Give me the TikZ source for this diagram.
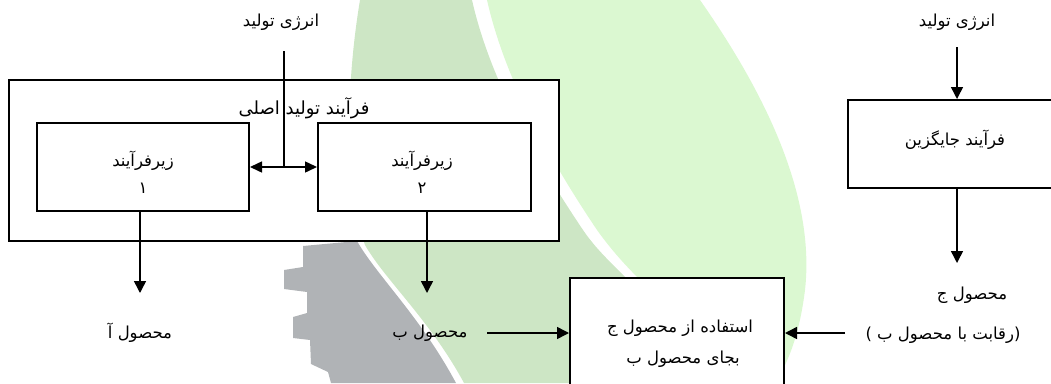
\documentclass[tikz,border=0pt]{standalone}
\usepackage{fontspec}
\newfontfamily\arabicfont[Script=Arabic]{DejaVu Sans}
\newfontfamily\latinfont{DejaVu Sans}
\TeXXeTstate=1
\usetikzlibrary{arrows.meta}
\definecolor{lgreen}{RGB}{219,248,209}
\definecolor{dgreen}{RGB}{205,230,197}
\definecolor{wgray}{RGB}{176,179,182}
\begin{document}
\begin{tikzpicture}[x=1pt,y=-1pt,
  box/.style={draw, line width=2pt, fill=white, inner sep=0pt},
  lbl/.style={font=\arabicfont\fontsize{16.5}{19}\selectfont, inner sep=0pt},
  ttl/.style={font=\arabicfont\fontsize{18}{21}\selectfont, inner sep=0pt},
  ln/.style={line width=1.5pt},
  arr/.style={line width=1.5pt, -{Triangle[length=12pt,width=12pt]}},
  dbl/.style={line width=1.5pt, {Triangle[length=12pt,width=11pt]}-{Triangle[length=12pt,width=11pt]}}]
\useasboundingbox (0,0) rectangle (1051,383);
% watermark
\fill[lgreen] (487,0) -- (700,0) .. controls (770,100) and (815,200) .. (805,290) .. controls (800,330) and (790,360) .. (775,383) -- (715,383) .. controls (690,340) and (670,320) .. (650,290) .. controls (630,270) and (615,255) .. (597,230) .. controls (550,160) and (505,80) .. (487,0) -- cycle;
\fill[dgreen] (360,0) -- (472,0) .. controls (490,80) and (536,160) .. (583,230) .. controls (600,255) and (620,270) .. (637,290) .. controls (660,320) and (680,345) .. (700,383) -- (464,383) .. controls (430,320) and (385,280) .. (365,245) .. controls (345,190) and (345,90) .. (360,0) -- cycle;
\fill[wgray] (303,246) -- (357,241) .. controls (377,276) and (420,316) .. (456,383) -- (331,383) -- (328,372) -- (311,364) -- (310,340) -- (293,338) -- (293,317) -- (307,313) -- (307,292) -- (284,289) -- (284,270) -- (303,267) -- cycle;
% left part
\node[box, minimum width=550pt, minimum height=161pt] (outer) at (284,160.5) {};
\node[ttl] (title) at (304,108) {\beginR فرآیند تولید اصلی\endR};
\node[box, minimum width=212pt, minimum height=88pt] (b1) at (143,167) {};
\node[box, minimum width=213pt, minimum height=88pt] (b2) at (424.5,167) {};
\node[lbl] (t1a) at (143,161) {\beginR زیرفرآیند\endR};
\node[lbl] (t1b) at (143,188) {۱};
\node[lbl] (t2a) at (422,161) {\beginR زیرفرآیند\endR};
\node[lbl] (t2b) at (422,188) {۲};
\node[lbl] (e1) at (281,22) {\beginR انرژی تولید\endR};
\coordinate (e1s) at (284,51);
\coordinate (j) at (284,167);
\draw[ln] (e1s) -- (j);
\draw[dbl] (b1.east) -- (b2.west);
\coordinate (a1) at (140,293);
\draw[arr] (b1.south -| a1) -- (a1);
\node[lbl] (p1) at (140,333) {\beginR محصول آ\endR};
\coordinate (a2) at (427,293);
\draw[arr] (b2.south -| a2) -- (a2);
\node[lbl] (p2) at (430,333) {\beginR محصول ب\endR};
% bottom box
\node[box, minimum width=214pt, minimum height=130pt] (u) at (677,343) {};
\node[lbl] (u1) at (680,328) {\beginR استفاده از محصول ج\endR};
\node[lbl] (u2) at (683,359) {\beginR بجای محصول ب\endR};
\coordinate (l1) at (487,333);
\draw[arr] (l1) -- (l1 -| u.west);
\coordinate (r1) at (845,333);
\draw[arr] (r1) -- (r1 -| u.east);
% right part
\node[lbl] (e2) at (957,22) {\beginR انرژی تولید\endR};
\coordinate (e2s) at (957,47);
\node[box, minimum width=218pt, minimum height=88pt] (rb) at (957,144) {};
\node[lbl] (rbt) at (955,140) {\beginR فرآیند جایگزین\endR};
\draw[arr] (e2s) -- (rb.north);
\coordinate (a3) at (957,263);
\draw[arr] (rb.south) -- (a3);
\node[lbl] (pc) at (972,295) {\beginR محصول ج\endR};
\node[lbl] (pc2) at (943,335) {{\latinfont(}\ \beginR رقابت با محصول ب\endR{\latinfont)}};
\end{tikzpicture}
\end{document}
